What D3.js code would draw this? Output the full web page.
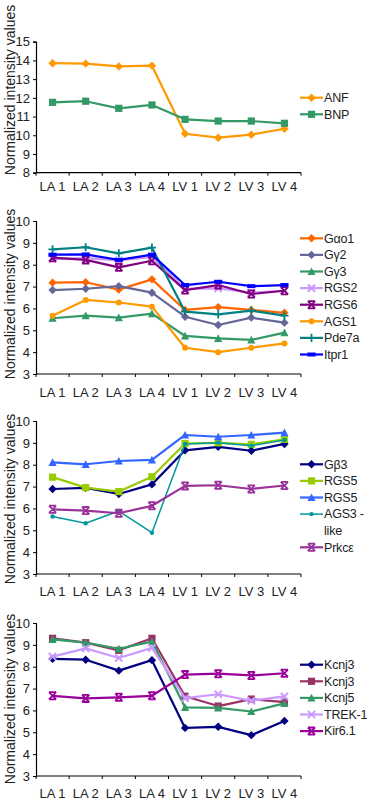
<!DOCTYPE html>
<html>
<head>
<meta charset="utf-8">
<script src="https://cdn.jsdelivr.net/npm/d3@7"></script>
<style>
  body { margin: 0; background: #fff; }
  text { font-family: Arial, "Liberation Sans", sans-serif; fill: #222; }
</style>
</head>
<body>
<div id="chart"></div>
<script>
// Sample categories (shared by all four panels)
var categories = ['LA 1', 'LA 2', 'LA 3', 'LA 4', 'LV 1', 'LV 2', 'LV 3', 'LV 4'];

// Panel 1: natriuretic peptides
var anf = [13.85, 13.83, 13.68, 13.72, 10.08, 9.87, 10.03, 10.35];
var bnp = [11.76, 11.82, 11.44, 11.62, 10.85, 10.76, 10.76, 10.64];

// Panel 2: G-protein signalling
var gao1 = [7.18, 7.2, 6.86, 7.33, 5.93, 6.06, 5.93, 5.8];
var gy2 = [6.84, 6.9, 7.02, 6.72, 5.62, 5.24, 5.58, 5.35];
var gy3 = [5.55, 5.67, 5.58, 5.76, 4.74, 4.63, 4.56, 4.89];
var rgs2 = [8.26, 8.3, 8.2, 8.36, 6.9, 6.92, 6.72, 6.82];
var rgs6 = [8.32, 8.22, 7.88, 8.18, 6.84, 7.07, 6.66, 6.81];
var ags1 = [5.66, 6.39, 6.27, 6.08, 4.2, 4.0, 4.2, 4.4];
var pde7a = [8.7, 8.8, 8.52, 8.78, 5.85, 5.73, 5.9, 5.67];
var itpr1 = [8.46, 8.47, 8.22, 8.46, 7.07, 7.22, 7.02, 7.07];

// Panel 3
var gb3 = [6.89, 6.94, 6.66, 7.1, 8.66, 8.82, 8.64, 8.95];
var rgs5a = [7.43, 6.95, 6.77, 7.45, 8.97, 9.0, 8.93, 9.16];
var rgs5b = [8.11, 8.02, 8.17, 8.22, 9.36, 9.28, 9.36, 9.47];
var ags3 = [5.63, 5.32, 5.88, 4.89, 8.95, 9.01, 8.87, 9.13];
var prkce = [5.96, 5.9, 5.78, 6.12, 7.03, 7.06, 6.89, 7.05];

// Panel 4: potassium channels
var kcnj3a = [8.36, 8.32, 7.82, 8.3, 5.2, 5.25, 4.87, 5.52];
var kcnj3b = [9.3, 9.1, 8.75, 9.3, 6.65, 6.2, 6.52, 6.38];
var kcnj5 = [9.25, 9.1, 8.82, 9.15, 6.14, 6.12, 5.95, 6.32];
var trek1 = [8.46, 8.84, 8.4, 8.86, 6.56, 6.74, 6.44, 6.64];
var kir61 = [6.67, 6.55, 6.6, 6.67, 7.64, 7.68, 7.6, 7.7];

var panels = [
  {domain: [8, 15], top: 41.7, bottom: 172.7, labelMid: 90, tickGap: 14, legendTop: 97.7,
   series: [
     {name: 'ANF', values: anf, color: '#ff9900', marker: 'diamond'},
     {name: 'BNP', values: bnp, color: '#339966', marker: 'square'}
   ]},
  {domain: [3, 10], top: 221, bottom: 374, labelMid: 294, tickGap: 18.7, legendTop: 238.3,
   series: [
     {name: 'Gαo1', values: gao1, color: '#ff6600', marker: 'diamond'},
     {name: 'Gγ2', values: gy2, color: '#666699', marker: 'diamond'},
     {name: 'Gγ3', values: gy3, color: '#339966', marker: 'triangle'},
     {name: 'RGS2', values: rgs2, color: '#cc99ff', marker: 'x'},
     {name: 'RGS6', values: rgs6, color: '#800080', marker: 'star'},
     {name: 'AGS1', values: ags1, color: '#ff9900', marker: 'circle'},
     {name: 'Pde7a', values: pde7a, color: '#008080', marker: 'plus'},
     {name: 'Itpr1', values: itpr1, color: '#0000ff', marker: 'dash'}
   ]},
  {domain: [3, 10], top: 421, bottom: 574, labelMid: 499, tickGap: 17.7, legendTop: 464.3,
   series: [
     {name: 'Gβ3', values: gb3, color: '#000080', marker: 'diamond'},
     {name: 'RGS5', values: rgs5a, color: '#99cc00', marker: 'square'},
     {name: 'RGS5', values: rgs5b, color: '#3366ff', marker: 'triangle'},
     {name: ['AGS3 -', 'like'], values: ags3, color: '#009999', marker: 'dot', width: 1.5},
     {name: 'Prkcε', values: prkce, color: '#993399', marker: 'star'}
   ]},
  {domain: [3, 10], top: 623, bottom: 776, labelMid: 699, tickGap: 17.7, legendTop: 664.7,
   series: [
     {name: 'Kcnj3', values: kcnj3a, color: '#000080', marker: 'diamond'},
     {name: 'Kcnj3', values: kcnj3b, color: '#993366', marker: 'square'},
     {name: 'Kcnj5', values: kcnj5, color: '#339966', marker: 'triangle'},
     {name: 'TREK-1', values: trek1, color: '#cc99ff', marker: 'x'},
     {name: 'Kir6.1', values: kir61, color: '#990099', marker: 'star'}
   ]}
];

var W = 368, H = 804;
var left = 36, right = 301;
var rowH = 16.6;

var svg = d3.select('#chart').append('svg')
    .attr('width', W)
    .attr('height', H);

var x = d3.scaleBand().domain(categories).range([left, right]);

// draw one marker centred on (0,0)
function drawMarker(g, type, color) {
  var s = 3.6;
  if (type === 'diamond') {
    g.append('path').attr('d', 'M0,' + (-s - 0.6) + 'L' + (s + 0.6) + ',0L0,' + (s + 0.6) + 'L' + (-s - 0.6) + ',0Z')
      .attr('fill', color);
  } else if (type === 'square') {
    g.append('rect').attr('x', -s).attr('y', -s).attr('width', 2 * s).attr('height', 2 * s)
      .attr('fill', color);
  } else if (type === 'triangle') {
    g.append('path').attr('d', 'M0,' + (-s - 0.5) + 'L' + (s + 0.5) + ',' + s + 'L' + (-s - 0.5) + ',' + s + 'Z')
      .attr('fill', color);
  } else if (type === 'circle') {
    g.append('circle').attr('r', 3).attr('fill', color);
  } else if (type === 'dot') {
    g.append('circle').attr('r', 2.2).attr('fill', color);
  } else if (type === 'x') {
    g.append('path').attr('d', 'M' + -s + ',' + -s + 'L' + s + ',' + s + 'M' + s + ',' + -s + 'L' + -s + ',' + s)
      .attr('stroke', color).attr('stroke-width', 2).attr('fill', 'none');
  } else if (type === 'star') {
    g.append('path').attr('d', 'M' + -s + ',' + -s + 'L' + s + ',' + s + 'M' + s + ',' + -s + 'L' + -s + ',' + s +
        'M' + (-s) + ',' + (-s) + 'L' + s + ',' + (-s) + 'M' + (-s) + ',' + s + 'L' + s + ',' + s)
      .attr('stroke', color).attr('stroke-width', 1.8).attr('fill', 'none');
  } else if (type === 'plus') {
    g.append('path').attr('d', 'M0,' + (-s - 0.5) + 'L0,' + (s + 0.5) + 'M' + (-s - 0.5) + ',0L' + (s + 0.5) + ',0')
      .attr('stroke', color).attr('stroke-width', 1.8).attr('fill', 'none');
  } else if (type === 'dash') {
    g.append('path').attr('d', 'M' + (-s - 0.5) + ',0L' + (s + 0.5) + ',0')
      .attr('stroke', color).attr('stroke-width', 4).attr('fill', 'none');
  }
}

panels.forEach(function (p) {
  var y = d3.scaleLinear().domain(p.domain).range([p.bottom, p.top]);
  var g = svg.append('g');

  // Y axis
  var yAxis = d3.axisLeft(y)
      .tickValues(d3.range(p.domain[0], p.domain[1] + 1))
      .tickSize(3)
      .tickPadding(3)
      .tickFormat(d3.format('d'));
  var ya = g.append('g')
      .attr('transform', 'translate(' + left + ',0)')
      .call(yAxis);
  ya.select('.domain').attr('stroke', '#000').attr('stroke-width', 1.2);
  ya.selectAll('line').attr('stroke', '#000');
  ya.selectAll('text').style('font-size', '13px').attr('fill', '#222');

  // X axis: ticks at category boundaries
  g.append('line')
    .attr('x1', left).attr('x2', right)
    .attr('y1', p.bottom).attr('y2', p.bottom)
    .attr('stroke', '#000').attr('stroke-width', 1.2);
  g.selectAll('.xtick')
    .data(d3.range(categories.length + 1))
    .enter().append('line')
    .attr('x1', function (i) { return left + i * x.step(); })
    .attr('x2', function (i) { return left + i * x.step(); })
    .attr('y1', p.bottom).attr('y2', p.bottom + 3)
    .attr('stroke', '#000');
  g.selectAll('.xlabel')
    .data(categories)
    .enter().append('text')
    .attr('x', function (d) { return x(d) + x.bandwidth() / 2; })
    .attr('y', p.bottom + p.tickGap)
    .attr('dy', '0.35em')
    .attr('text-anchor', 'middle')
    .style('font-size', '13px')
    .text(function (d) { return d; });

  // Y axis title
  g.append('text')
    .attr('transform', 'translate(10,' + p.labelMid + ') rotate(-90)')
    .attr('text-anchor', 'middle')
    .attr('dy', '0.35em')
    .style('font-size', '14px')
    .text('Normalized intensity values');

  var line = d3.line()
      .x(function (d, i) { return x(categories[i]) + x.bandwidth() / 2; })
      .y(function (d) { return y(d); });

  // Series
  p.series.forEach(function (s) {
    g.append('path')
      .attr('d', line(s.values))
      .attr('fill', 'none')
      .attr('stroke', s.color)
      .attr('stroke-width', s.width || 2.2)
      .attr('stroke-linejoin', 'round');
    s.values.forEach(function (v, i) {
      var m = g.append('g')
          .attr('transform', 'translate(' + (x(categories[i]) + x.bandwidth() / 2) + ',' + y(v) + ')');
      drawMarker(m, s.marker, s.color);
    });
  });

  // Legend
  var row = 0;
  p.series.forEach(function (s) {
    var ly = p.legendTop + row * rowH;
    g.append('line')
      .attr('x1', 300).attr('x2', 323)
      .attr('y1', ly).attr('y2', ly)
      .attr('stroke', s.color)
      .attr('stroke-width', s.width || 2.2);
    var m = g.append('g').attr('transform', 'translate(311.5,' + ly + ')');
    drawMarker(m, s.marker, s.color);
    var names = [].concat(s.name);
    names.forEach(function (n, k) {
      g.append('text')
        .attr('x', 324)
        .attr('y', ly + k * rowH)
        .attr('dy', '0.35em')
        .style('font-size', '12.5px')
        .style('letter-spacing', '-0.2px')
        .text(n);
    });
    row += names.length;
  });
});
</script>
</body>
</html>
